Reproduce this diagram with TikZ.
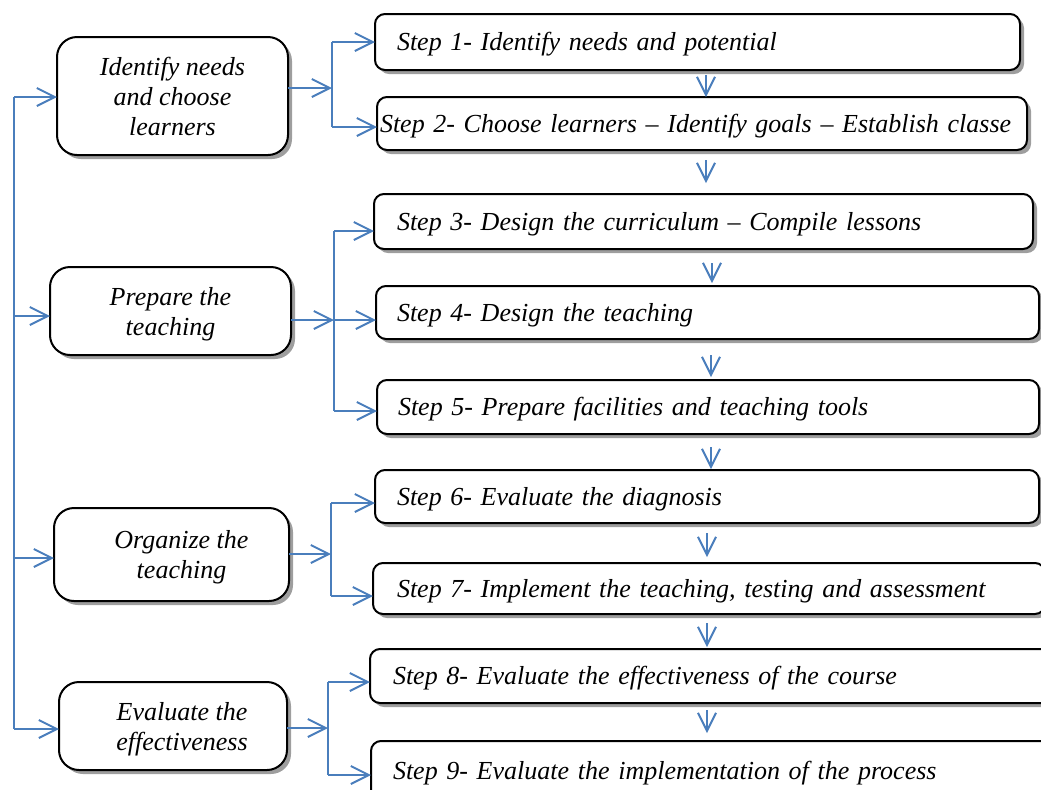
\documentclass[tikz,border=0pt]{standalone}
\usepackage{fontspec}
\setmainfont{Liberation Serif}
\usetikzlibrary{arrows.meta,shadows}
\definecolor{connblue}{RGB}{74,126,188}
\begin{document}
\begin{tikzpicture}[x=0.5pt,y=-0.5pt,
  box/.style={draw=black, line width=1pt, fill=white, outer sep=0pt,
    drop shadow={shadow xshift=2pt, shadow yshift=-2pt, fill=black!38, opacity=1},
    font=\fontsize{13}{15}\selectfont\itshape},
  stepbox/.style={box, rounded corners=5pt, anchor=north west, align=left, inner ysep=0pt, text depth=0.5pt},
  phasebox/.style={box, rounded corners=10pt, align=center, inner sep=0pt, text depth=0pt},
  conn/.style={draw=connblue, line width=1pt},
  arr/.style={conn, -{Straight Barb[length=9pt,width=9pt]}}]
\useasboundingbox (0,0) rectangle (1041,789);
\clip (0,0) rectangle (1041,789);
% step boxes
\node[stepbox, minimum height=28pt, inner xsep=11pt, text width=300.5pt] (S1) at (375,14) {Step 1- Identify needs and potential};
\node[stepbox, minimum height=26.5pt, inner xsep=1.5pt, text width=322pt] (S2) at (377,97) {\mbox{Step 2- Choose learners – Identify goals – Establish classe}};
\node[stepbox, minimum height=27.5pt, inner xsep=11.5pt, text width=306.5pt] (S3) at (374,194) {Step 3- Design the curriculum – Compile lessons};
\node[stepbox, minimum height=26.5pt, inner xsep=10.5pt, text width=310.5pt] (S4) at (376,286) {Step 4- Design the teaching};
\node[stepbox, minimum height=27pt, inner xsep=10.5pt, text width=310pt] (S5) at (377,380) {Step 5- Prepare facilities and teaching tools};
\node[stepbox, minimum height=26.5pt, inner xsep=11pt, text width=310pt] (S6) at (375,470) {Step 6- Evaluate the diagnosis};
\node[stepbox, minimum height=25.5pt, inner xsep=12pt, text width=312pt] (S7) at (373,563) {Step 7- Implement the teaching, testing and assessment};
\node[stepbox, minimum height=27pt, inner xsep=11.5pt, text width=322pt] (S8) at (370,649) {Step 8- Evaluate the effectiveness of the course};
\node[stepbox, minimum height=29.5pt, inner xsep=11pt, text width=322.5pt] (S9) at (371,741) {Step 9- Evaluate the implementation of the process};
% phase boxes
\node[phasebox, minimum width=115.5pt, minimum height=59pt] (L1) at (172.5,96) {Identify needs\\and choose\\learners};
\node[phasebox, minimum width=120.5pt, minimum height=44pt] (L2) at (170.5,311) {Prepare the\\teaching};
\node[phasebox, minimum width=117.5pt, minimum height=46.5pt] (L3) at (171.5,554.5) {\hspace*{10pt}Organize the\\\hspace*{10pt}teaching};
\node[phasebox, minimum width=114pt, minimum height=44pt] (L4) at (173,726) {\hspace*{9pt}Evaluate the\\\hspace*{9pt}effectiveness};
% trunk
\coordinate (t1) at (14,97);
\coordinate (t2) at (14,316);
\coordinate (t3) at (14,558);
\coordinate (t4) at (14,729);
\draw[conn] (t1) -- (t4);
\draw[arr] (t1) -- (t1 -| L1.west);
\draw[arr] (t2) -- (t2 -| L2.west);
\draw[arr] (t3) -- (t3 -| L3.west);
\draw[arr] (t4) -- (t4 -| L4.west);
% branch 1
\coordinate (b1) at (332,88);
\coordinate (b1t) at (332,42);
\coordinate (b1b) at (332,127);
\draw[arr] (b1 -| L1.east) -- (b1);
\draw[conn] (b1t) -- (b1b);
\draw[arr] (b1t) -- (b1t -| S1.west);
\draw[arr] (b1b) -- (b1b -| S2.west);
% branch 2
\coordinate (b2) at (334,320);
\coordinate (b2t) at (334,231);
\coordinate (b2b) at (334,411);
\draw[arr] (b2 -| L2.east) -- (b2);
\draw[conn] (b2t) -- (b2b);
\draw[arr] (b2t) -- (b2t -| S3.west);
\draw[arr] (b2) -- (b2 -| S4.west);
\draw[arr] (b2b) -- (b2b -| S5.west);
% branch 3
\coordinate (b3) at (331,554);
\coordinate (b3t) at (331,503);
\coordinate (b3b) at (331,596);
\draw[arr] (b3 -| L3.east) -- (b3);
\draw[conn] (b3t) -- (b3b);
\draw[arr] (b3t) -- (b3t -| S6.west);
\draw[arr] (b3b) -- (b3b -| S7.west);
% branch 4
\coordinate (b4) at (328,728);
\coordinate (b4t) at (328,682);
\coordinate (b4b) at (328,775);
\draw[arr] (b4 -| L4.east) -- (b4);
\draw[conn] (b4t) -- (b4b);
\draw[arr] (b4t) -- (b4t -| S8.west);
\draw[arr] (b4b) -- (b4b -| S9.west);
% down arrows
\coordinate (a1) at (706,0);
\coordinate (a2) at (706,0);
\coordinate (a3) at (712,0);
\coordinate (a4) at (711,0);
\coordinate (a5) at (711,0);
\coordinate (a6) at (707,0);
\coordinate (a7) at (707,0);
\coordinate (a8) at (707,0);
\draw[arr, shorten <=2.5pt] (S1.south -| a1) -- (S2.north -| a1);
\draw[arr, shorten <=5pt, shorten >=5.5pt] (S2.south -| a2) -- (S3.north -| a2);
\draw[arr, shorten <=7pt, shorten >=1.5pt] (S3.south -| a3) -- (S4.north -| a3);
\draw[arr, shorten <=8pt, shorten >=1.5pt] (S4.south -| a4) -- (S5.north -| a4);
\draw[arr, shorten <=6.5pt, shorten >=0.5pt] (S5.south -| a5) -- (S6.north -| a5);
\draw[arr, shorten <=5pt, shorten >=3pt] (S6.south -| a6) -- (S7.north -| a6);
\draw[arr, shorten <=4.5pt, shorten >=1pt] (S7.south -| a7) -- (S8.north -| a7);
\draw[arr, shorten <=3.5pt, shorten >=4pt] (S8.south -| a8) -- (S9.north -| a8);
\end{tikzpicture}
\end{document}
